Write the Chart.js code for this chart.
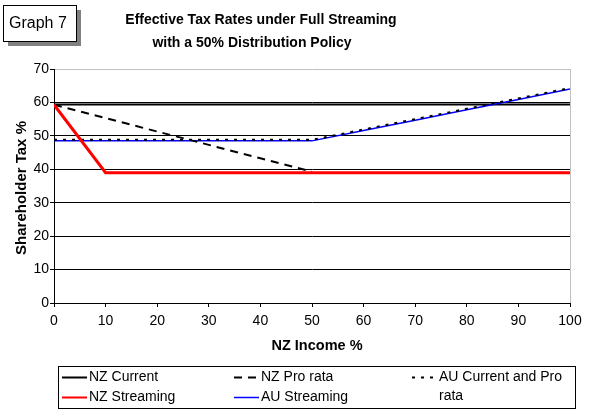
<!DOCTYPE html>
<html>
<head>
<meta charset="utf-8">
<script src="https://cdn.jsdelivr.net/npm/chart.js@4.4.1/dist/chart.umd.min.js"></script>
<style>
html, body { margin: 0; padding: 0; background: #fff; }
</style>
</head>
<body>
<canvas id="chart" width="592" height="416"></canvas>
<script>
const nzIncome         = [0, 10, 20, 30, 40, 50, 60, 70, 80, 90, 100];
const nzCurrent        = [59.4, 59.4, 59.4, 59.4, 59.4, 59.4, 59.4, 59.4, 59.4, 59.4, 59.4];
const nzProRata        = [59.3, 55.3, 51.3, 47.3, 43.3, 39.3, null, null, null, null, null];
const auCurrentProRata = [48.8, 48.8, 48.8, 48.8, 48.8, 48.8, 51.9, 55.0, 58.1, 61.2, 64.3];
const nzStreaming      = [59.3, 39, 39, 39, 39, 39, 39, 39, 39, 39, 39];
const auStreaming      = [48.5, 48.5, 48.5, 48.5, 48.5, 48.5, 51.6, 54.7, 57.8, 60.9, 64.0];

const seriesLabels = ["NZ Current", "NZ Pro rata", "AU Current and Pro rata", "NZ Streaming", "AU Streaming"];
const titleLines   = ["Effective Tax Rates under Full Streaming", "with a 50% Distribution Policy"];

const FONT = '"Liberation Sans", Arial, sans-serif';

function pts (vals) {
    return nzIncome.map((x, i) => ({ x: x, y: vals[i] }));
}

function line (label, vals, color, width, dash, order) {
    return {
        label: label,
        data: pts(vals),
        borderColor: color,
        backgroundColor: color,
        borderWidth: width,
        borderDash: dash,
        pointRadius: 0,
        fill: false,
        tension: 0,
        order: order
    };
}

/* headings, box, axis titles and legend drawn on top of the chart */
const extras = {
    id: "extras",
    beforeDraw (chart) {
        const ctx = chart.ctx;
        ctx.save();
        ctx.fillStyle = "#fff";
        ctx.fillRect(0, 0, chart.width, chart.height);
        ctx.restore();
    },
    afterDraw (chart) {
        const ctx = chart.ctx;
        const area = chart.chartArea;
        ctx.save();

        // "Graph 7" box with shadow
        ctx.fillStyle = "#808080";
        ctx.fillRect(8, 10, 73, 36);
        ctx.fillStyle = "#fff";
        ctx.fillRect(3, 5, 73, 36);
        ctx.strokeStyle = "#000";
        ctx.lineWidth = 1;
        ctx.strokeRect(3.5, 5.5, 73, 36);
        ctx.fillStyle = "#000";
        ctx.font = "16px " + FONT;
        ctx.textAlign = "left";
        ctx.textBaseline = "middle";
        ctx.fillText("Graph 7", 9, 24);

        // title
        ctx.font = "bold 14px " + FONT;
        ctx.textAlign = "center";
        ctx.fillText(titleLines[0], 261, 20);
        ctx.fillText(titleLines[1], 252, 43);

        // axis titles
        ctx.font = "bold 14.5px " + FONT;
        ctx.fillText("NZ Income %", 317, 346);
        ctx.save();
        ctx.translate(22, 188);
        ctx.rotate(-Math.PI / 2);
        ctx.font = "bold 15px " + FONT;
        ctx.fillText("Shareholder Tax %", 0, 0);
        ctx.restore();

        // legend
        ctx.strokeStyle = "#000";
        ctx.lineWidth = 1;
        ctx.setLineDash([]);
        ctx.strokeRect(58.5, 366.5, 517, 42);
        const colX = [62, 234, 412];
        const rowY = [377, 397];
        ctx.font = "14px " + FONT;
        ctx.textAlign = "left";
        chart.data.datasets.forEach((ds, i) => {
            const c = i % 3;
            const r = Math.floor(i / 3);
            const y = rowY[r];
            ctx.beginPath();
            ctx.strokeStyle = ds.borderColor;
            ctx.lineWidth = Math.min(ds.borderWidth, 2);
            ctx.setLineDash(ds.borderDash || []);
            ctx.moveTo(colX[c], y + 0.5);
            ctx.lineTo(colX[c] + 25, y + 0.5);
            ctx.stroke();
            ctx.setLineDash([]);
            ctx.fillStyle = "#000";
            // wrap long labels
            const words = ds.label.split(" ");
            let cur = "";
            let ly = y;
            words.forEach((w) => {
                const t = cur ? cur + " " + w : w;
                if (ctx.measureText(t).width > 140 && cur) {
                    ctx.fillText(cur, colX[c] + 27, ly);
                    cur = w;
                    ly += 19;
                } else {
                    cur = t;
                }
            });
            ctx.fillText(cur, colX[c] + 27, ly);
        });
        ctx.restore();
    }
};

new Chart(document.getElementById("chart").getContext("2d"), {
    type: "line",
    data: {
        datasets: [
            line(seriesLabels[0], nzCurrent, "#000000", 2, [], 4),
            line(seriesLabels[1], nzProRata, "#000000", 2, [8, 6], 1),
            line(seriesLabels[2], auCurrentProRata, "#000000", 2, [3, 6], 2),
            line(seriesLabels[3], nzStreaming, "#ff0000", 3, [], 0),
            line(seriesLabels[4], auStreaming, "#0000ff", 1.5, [], 3)
        ]
    },
    options: {
        responsive: false,
        devicePixelRatio: 1,
        animation: false,
        layout: { padding: { left: 0, right: 22, top: 69, bottom: 83 } },
        plugins: {
            legend: { display: false },
            title: { display: false },
            tooltip: { enabled: false }
        },
        scales: {
            x: {
                type: "linear",
                min: 0,
                max: 100,
                afterFit: (s) => { s.height = 30; },
                ticks: {
                    stepSize: 10,
                    padding: 6,
                    color: "#000",
                    font: { family: FONT, size: 14 },
                    maxRotation: 0
                },
                grid: {
                    color: (c) => (c.tick && c.tick.value === 100) ? "#c0c0c0" : "rgba(0,0,0,0)",
                    tickColor: "#000",
                    tickLength: 4,
                    lineWidth: 1
                },
                border: { display: true, color: "#000", width: 1 }
            },
            y: {
                min: 0,
                max: 70,
                afterFit: (s) => { s.width = 54; },
                ticks: {
                    stepSize: 10,
                    padding: 1,
                    color: "#000",
                    font: { family: FONT, size: 14 }
                },
                grid: {
                    color: (c) => (c.tick && c.tick.value === 70) ? "#c0c0c0" : "#000",
                    tickColor: "#000",
                    tickLength: 4,
                    lineWidth: 1
                },
                border: { display: true, color: "#000", width: 1 }
            }
        }
    },
    plugins: [extras]
});
</script>
</body>
</html>
